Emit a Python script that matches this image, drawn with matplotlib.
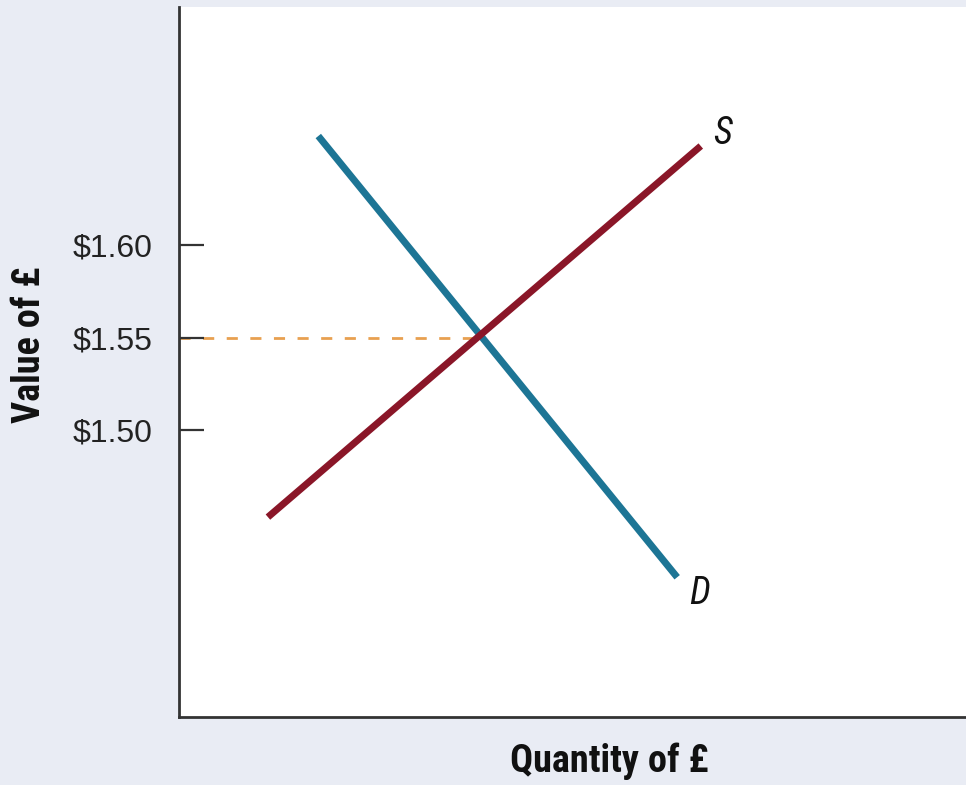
import matplotlib
matplotlib.use("Agg")
import matplotlib.pyplot as plt
from matplotlib import font_manager

# Supply and demand for pounds (quantity in arbitrary units, value in $)
supply_q = [11.3, 66.3]
supply_v = [1.453, 1.6535]
demand_q = [17.7, 63.3]
demand_v = [1.6589, 1.4205]
equilibrium_q = 38.4
equilibrium_v = 1.55
tick_values = [1.50, 1.55, 1.60]
tick_labels = ["$1.50", "$1.55", "$1.60"]

names = {f.name for f in font_manager.fontManager.ttflist}
narrow = next((n for n in ["Liberation Sans Narrow", "Roboto Condensed", "Roboto"]
               if n in names), "DejaVu Sans")

bg = "#e9ecf4"
fig = plt.figure(figsize=(9.66, 7.85), dpi=100, facecolor=bg)
ax = fig.add_axes([179 / 966, 68 / 785, 1 - 179 / 966, (717 - 7) / 785])
ax.set_facecolor("white")

ax.set_xlim(0, 100)
ax.set_ylim(1.345, 1.7286)

ax.plot(supply_q, supply_v, color="#8a1628", lw=5, solid_capstyle="butt", zorder=3)
ax.plot(demand_q, demand_v, color="#1d7595", lw=5, solid_capstyle="butt", zorder=2)
ax.plot([0, equilibrium_q], [equilibrium_v, equilibrium_v], color="#e8a050",
        lw=2, ls=(0, (4, 4.5)), zorder=1)

ax.text(supply_q[1] + 1.6, supply_v[1] - 0.003, "S", fontsize=27, style="italic",
        family=narrow, ha="left", va="bottom", color="#111111")
ax.text(demand_q[1] + 1.5, demand_v[1] + 0.001, "D", fontsize=27, style="italic",
        family=narrow, ha="left", va="top", color="#111111")

for s in ["top", "right"]:
    ax.spines[s].set_visible(False)
for s in ["left", "bottom"]:
    ax.spines[s].set_color("#333333")
    ax.spines[s].set_linewidth(2)

ax.set_xticks([])
ax.set_yticks(tick_values)
ax.set_yticklabels(tick_labels, fontsize=23, family="Liberation Sans", color="#222222")
ax.tick_params(axis="y", direction="in", length=18, width=1.6, color="#333333", pad=19)

fig.text(609 / 966, 1 - 761 / 785, "Quantity of £", fontsize=27.5, fontweight="bold",
         family=narrow, ha="center", va="center", color="#111111")
fig.text(30 / 966, 1 - 345 / 785, "Value of £", fontsize=27.5, fontweight="bold",
         family=narrow, ha="center", va="center", rotation=90, color="#111111")

fig.savefig("out.png", dpi=100, facecolor=bg)
